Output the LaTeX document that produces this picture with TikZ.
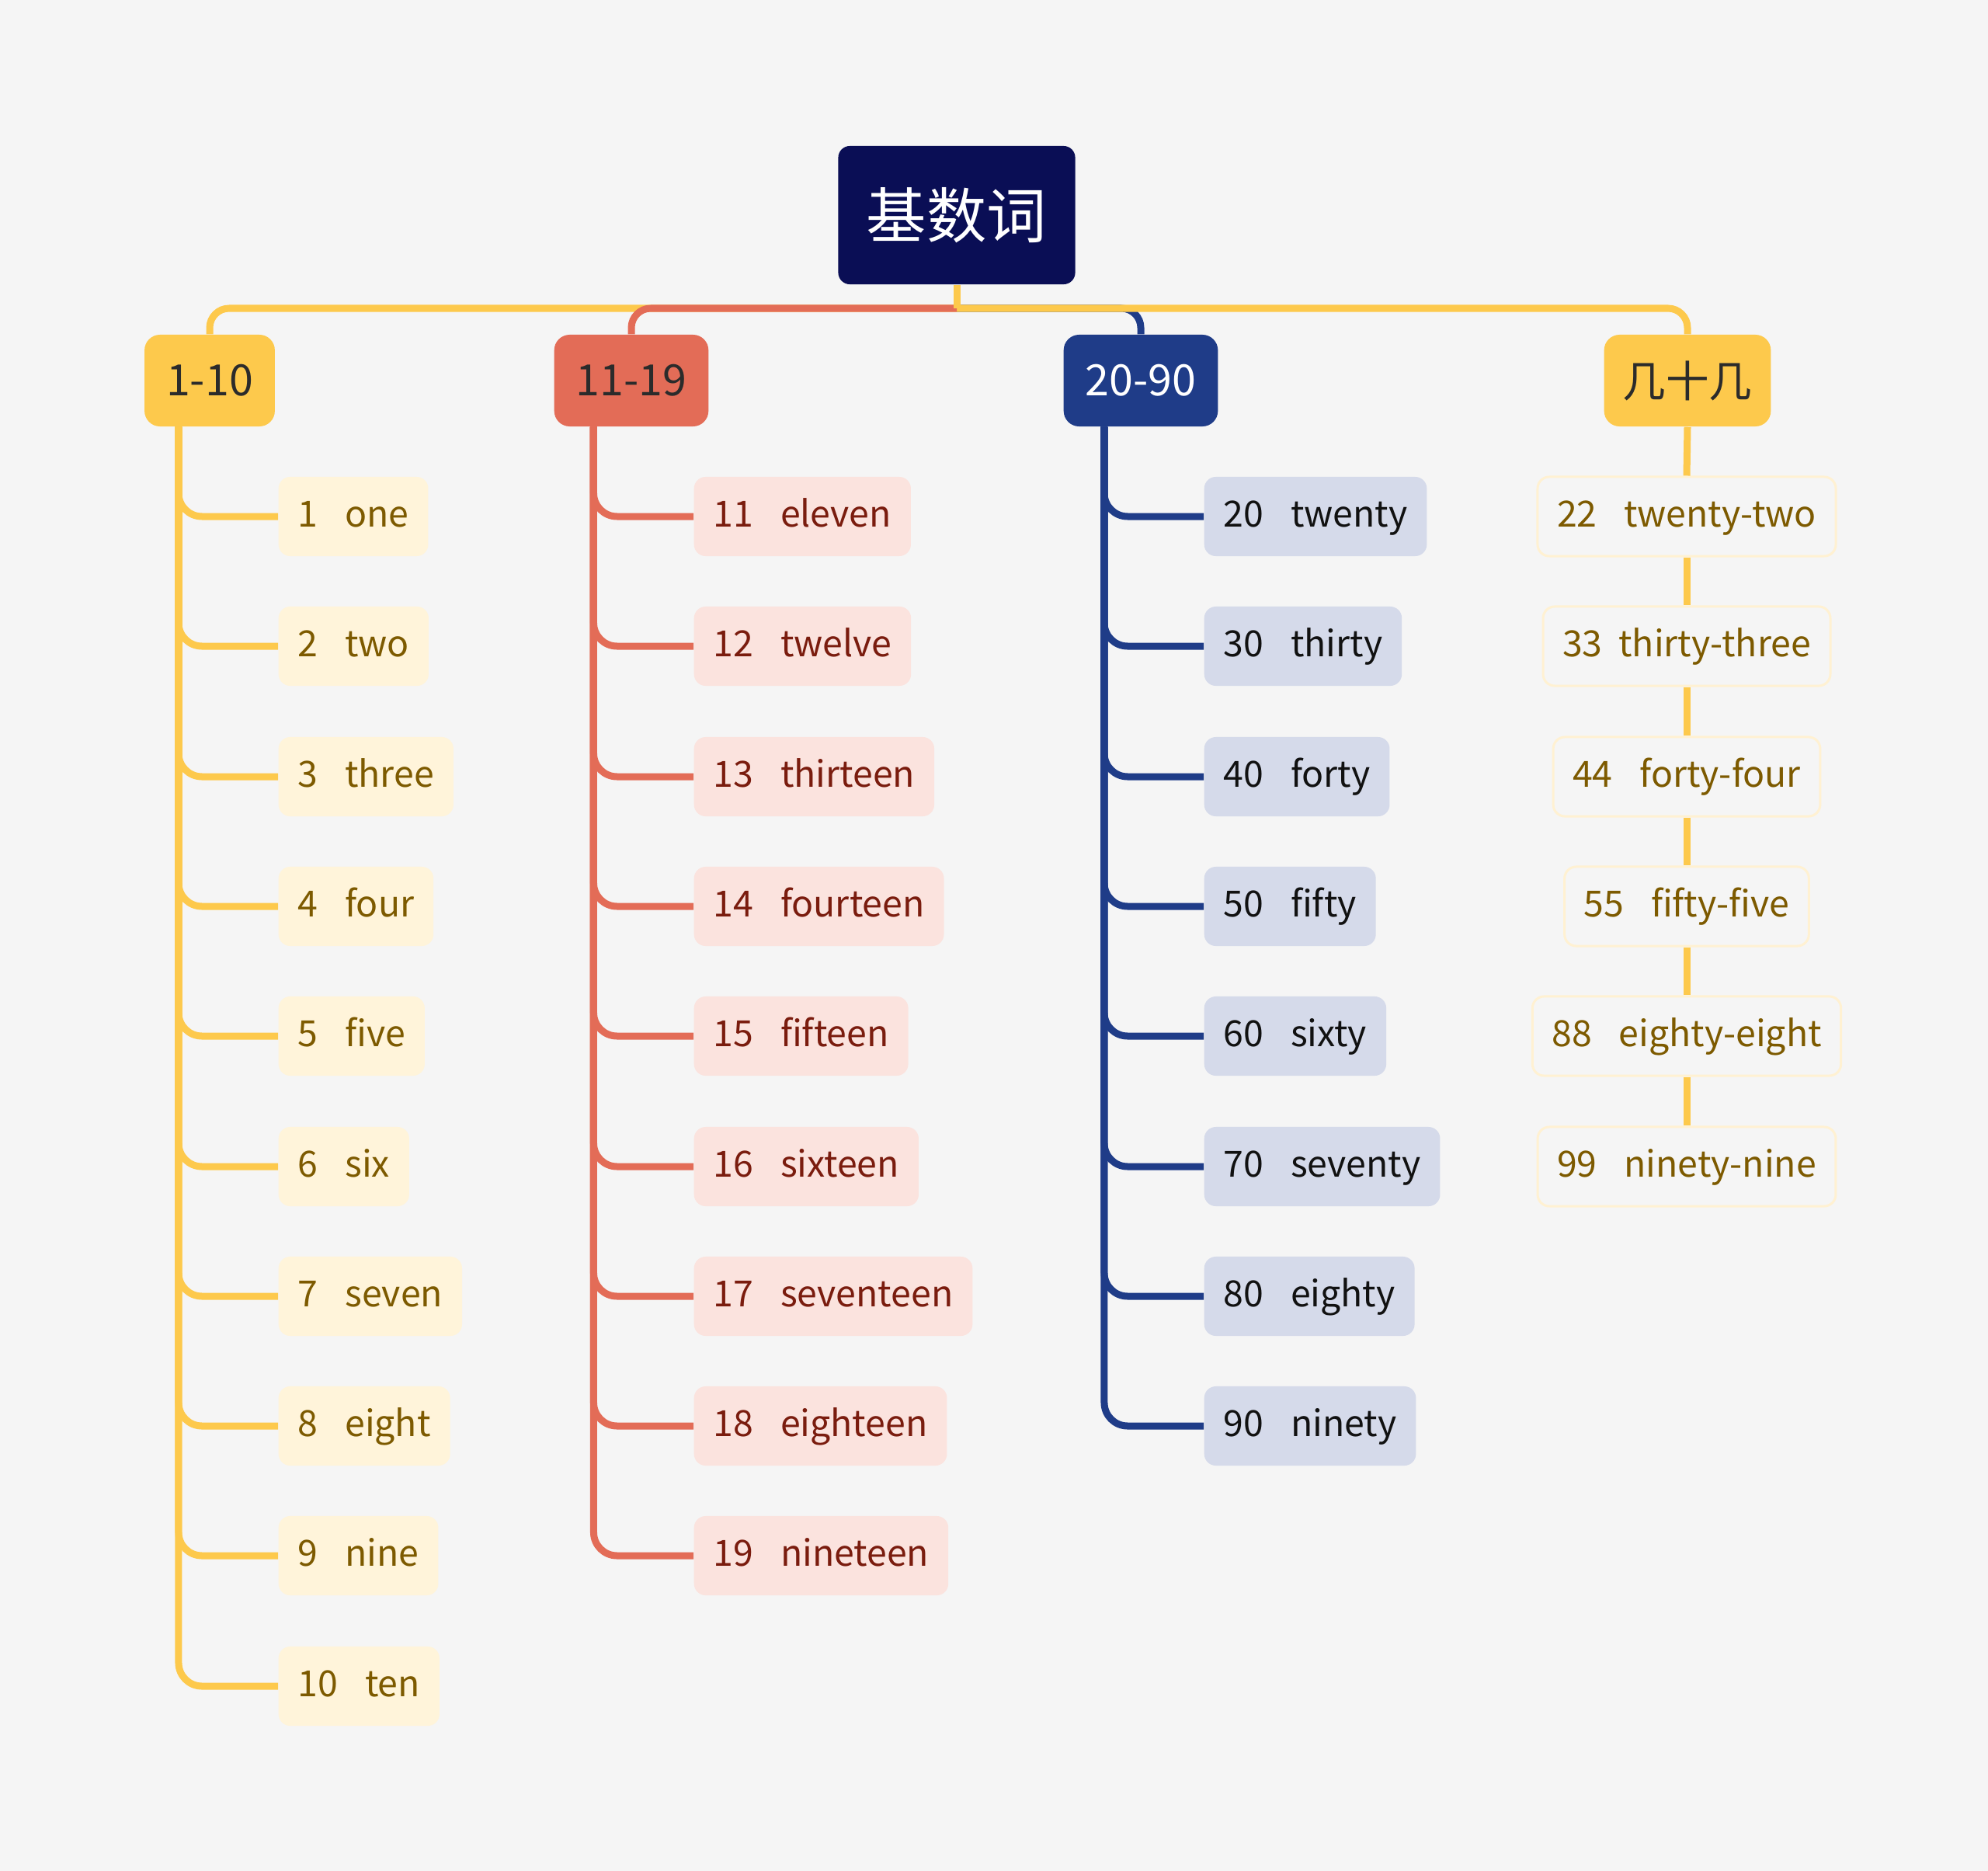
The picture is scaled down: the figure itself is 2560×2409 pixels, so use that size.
\documentclass[tikz,border=0pt]{standalone}
\usepackage{fontspec}
\setmainfont{Noto Sans CJK SC}
\usepackage{xcolor}
\usepackage{tikz}
\definecolor{cdpaper}{HTML}{F5F5F5}
\definecolor{cdnavy}{HTML}{0A0E55}
\definecolor{cdyellow}{HTML}{FDC94C}
\definecolor{cdred}{HTML}{E36C57}
\definecolor{cdblue}{HTML}{1F3C88}
\definecolor{cdyellowlt}{HTML}{FFF4DA}
\definecolor{cdredlt}{HTML}{FBE3DE}
\definecolor{cdbluelt}{HTML}{D5DAEA}
\definecolor{cdyellowtx}{HTML}{7D5A00}
\definecolor{cdredtx}{HTML}{7A1C0E}
\definecolor{cdbluetx}{HTML}{111111}
\definecolor{cdink}{HTML}{2B2B2B}
\definecolor{cdrim}{HTML}{FFF1D2}
\newcommand{\numgap}{\hspace{0.75em}}

\begin{document}
\begin{tikzpicture}[
  x=0.01cm, y=-0.01cm,
  every node/.style={font=\fontsize{13.2}{15}\selectfont},
  topic/.style={rounded corners=0.2cm, minimum height=1.18cm, inner xsep=0.28cm, fill=#1, text=cdink, font=\fontsize{15.8}{18}\selectfont},
  leaf/.style={rounded corners=0.15cm, minimum height=1.02cm, inner xsep=0.25cm, text height=0.74em, text depth=0pt, anchor=west, fill=#1lt, text=#1tx},
  rim/.style={rounded corners=0.15cm, minimum height=1.02cm, inner xsep=0.25cm, text height=0.74em, text depth=0pt, draw=cdrim, line width=0.03cm, fill=cdpaper, text=cdyellowtx},
  link/.style={line width=0.09cm, draw=#1, rounded corners=0.3cm}
]

\fill[cdpaper] (0,0) rectangle (2560,2409);

% root and topics
\node[fill=cdnavy, text=white, rounded corners=0.15cm, minimum width=3.05cm, minimum height=1.78cm, font=\fontsize{22}{26}\selectfont] (root) at (1232,277) {基数词};
\node[topic=cdyellow] (t1) at (270,490) {1-10};
\node[topic=cdred] (t2) at (813,490) {11-19};
\node[topic=cdblue, text=white] (t3) at (1469,490) {20-90};
\node[topic=cdyellow, inner xsep=0.24cm] (t4) at (2173,490) {几十几};
\coordinate (bus) at (1232,397);

% 1-10
\node[leaf=cdyellow] (a1) at (358,665) {1\numgap one};
\node[leaf=cdyellow] (a2) at (358,832) {2\numgap two};
\node[leaf=cdyellow] (a3) at (358,1000) {3\numgap three};
\node[leaf=cdyellow] (a4) at (358,1167) {4\numgap four};
\node[leaf=cdyellow] (a5) at (358,1334) {5\numgap five};
\node[leaf=cdyellow] (a6) at (358,1502) {6\numgap six};
\node[leaf=cdyellow] (a7) at (358,1669) {7\numgap seven};
\node[leaf=cdyellow] (a8) at (358,1836) {8\numgap eight};
\node[leaf=cdyellow] (a9) at (358,2003) {9\numgap nine};
\node[leaf=cdyellow] (a10) at (358,2171) {10\numgap ten};

% 11-19
\node[leaf=cdred] (b1) at (893,665) {11\numgap eleven};
\node[leaf=cdred] (b2) at (893,832) {12\numgap twelve};
\node[leaf=cdred] (b3) at (893,1000) {13\numgap thirteen};
\node[leaf=cdred] (b4) at (893,1167) {14\numgap fourteen};
\node[leaf=cdred] (b5) at (893,1334) {15\numgap fifteen};
\node[leaf=cdred] (b6) at (893,1502) {16\numgap sixteen};
\node[leaf=cdred] (b7) at (893,1669) {17\numgap seventeen};
\node[leaf=cdred] (b8) at (893,1836) {18\numgap eighteen};
\node[leaf=cdred] (b9) at (893,2003) {19\numgap nineteen};

% 20-90
\node[leaf=cdblue] (c1) at (1550,665) {20\numgap twenty};
\node[leaf=cdblue] (c2) at (1550,832) {30\numgap thirty};
\node[leaf=cdblue] (c3) at (1550,1000) {40\numgap forty};
\node[leaf=cdblue] (c4) at (1550,1167) {50\numgap fifty};
\node[leaf=cdblue] (c5) at (1550,1334) {60\numgap sixty};
\node[leaf=cdblue] (c6) at (1550,1502) {70\numgap seventy};
\node[leaf=cdblue] (c7) at (1550,1669) {80\numgap eighty};
\node[leaf=cdblue] (c8) at (1550,1836) {90\numgap ninety};

% 几十几
\node[rim] (d1) at (2172,665) {22\numgap twenty-two};
\node[rim] (d2) at (2172,832) {33\hspace{0.45em}thirty-three};
\node[rim] (d3) at (2172,1000) {44\numgap forty-four};
\node[rim] (d4) at (2172,1167) {55\numgap fifty-five};
\node[rim] (d5) at (2172,1334) {88\numgap eighty-eight};
\node[rim] (d6) at (2172,1502) {99\numgap ninety-nine};

% trunk
\draw[link=cdblue, rounded corners=0.25cm] (bus) -| (t3.north);
\draw[link=cdyellow, rounded corners=0.25cm] (bus) -| (t1.north);
\draw[link=cdyellow, rounded corners=0.25cm] (bus) -| (t4.north);
\draw[link=cdred, rounded corners=0.25cm] (bus) -| (t2.north);
\draw[link=cdyellow] (root.south) -- (bus);

% branches
\draw[link=cdyellow] ([xshift=-0.4cm]t1.south) |- (a1.west);
\draw[link=cdyellow] ([xshift=-0.4cm]t1.south) |- (a2.west);
\draw[link=cdyellow] ([xshift=-0.4cm]t1.south) |- (a3.west);
\draw[link=cdyellow] ([xshift=-0.4cm]t1.south) |- (a4.west);
\draw[link=cdyellow] ([xshift=-0.4cm]t1.south) |- (a5.west);
\draw[link=cdyellow] ([xshift=-0.4cm]t1.south) |- (a6.west);
\draw[link=cdyellow] ([xshift=-0.4cm]t1.south) |- (a7.west);
\draw[link=cdyellow] ([xshift=-0.4cm]t1.south) |- (a8.west);
\draw[link=cdyellow] ([xshift=-0.4cm]t1.south) |- (a9.west);
\draw[link=cdyellow] ([xshift=-0.4cm]t1.south) |- (a10.west);

\draw[link=cdred] ([xshift=-0.485cm]t2.south) |- (b1.west);
\draw[link=cdred] ([xshift=-0.485cm]t2.south) |- (b2.west);
\draw[link=cdred] ([xshift=-0.485cm]t2.south) |- (b3.west);
\draw[link=cdred] ([xshift=-0.485cm]t2.south) |- (b4.west);
\draw[link=cdred] ([xshift=-0.485cm]t2.south) |- (b5.west);
\draw[link=cdred] ([xshift=-0.485cm]t2.south) |- (b6.west);
\draw[link=cdred] ([xshift=-0.485cm]t2.south) |- (b7.west);
\draw[link=cdred] ([xshift=-0.485cm]t2.south) |- (b8.west);
\draw[link=cdred] ([xshift=-0.485cm]t2.south) |- (b9.west);

\draw[link=cdblue] ([xshift=-0.47cm]t3.south) |- (c1.west);
\draw[link=cdblue] ([xshift=-0.47cm]t3.south) |- (c2.west);
\draw[link=cdblue] ([xshift=-0.47cm]t3.south) |- (c3.west);
\draw[link=cdblue] ([xshift=-0.47cm]t3.south) |- (c4.west);
\draw[link=cdblue] ([xshift=-0.47cm]t3.south) |- (c5.west);
\draw[link=cdblue] ([xshift=-0.47cm]t3.south) |- (c6.west);
\draw[link=cdblue] ([xshift=-0.47cm]t3.south) |- (c7.west);
\draw[link=cdblue] ([xshift=-0.47cm]t3.south) |- (c8.west);

\draw[link=cdyellow] (t4.south) -- (d1.north);
\draw[link=cdyellow] (d1.south) -- (d2.north);
\draw[link=cdyellow] (d2.south) -- (d3.north);
\draw[link=cdyellow] (d3.south) -- (d4.north);
\draw[link=cdyellow] (d4.south) -- (d5.north);
\draw[link=cdyellow] (d5.south) -- (d6.north);

\end{tikzpicture}
\end{document}
